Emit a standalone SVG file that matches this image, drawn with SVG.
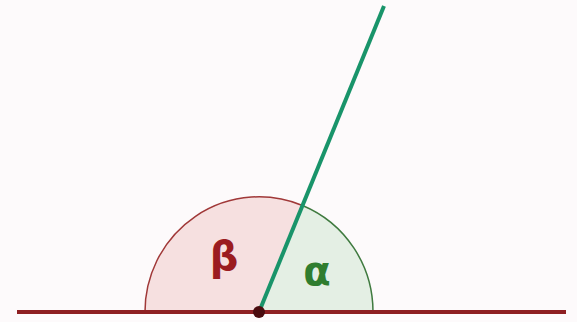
<svg xmlns="http://www.w3.org/2000/svg" width="577" height="322" viewBox="0 0 577 322">
<style>
.lbl{font-family:"DejaVu Sans",sans-serif;font-size:40px;font-weight:bold;text-anchor:middle}
</style>
<rect width="577" height="322" fill="#fdfafb"/>
<g id="sector-beta">
<path d="M145,312 A114,115 0 0 1 302.5,205.5 L259,312 Z" fill="#f6e0e0" stroke="none"/>
<path d="M145,312 A114,115 0 0 1 302.5,205.5" fill="none" stroke="#a03838" stroke-width="1.5"/>
</g>
<g id="sector-alpha">
<path d="M302.5,205.5 A114,115 0 0 1 373,312 L259,312 Z" fill="#e4efe4" stroke="none"/>
<path d="M302.5,205.5 A114,115 0 0 1 373,312" fill="none" stroke="#3f7a3f" stroke-width="1.5"/>
</g>
<g id="connectors">
<line x1="17" y1="312" x2="566" y2="312" stroke="#8e1f22" stroke-width="4"/>
<line x1="259" y1="312" x2="384" y2="6" stroke="#19946a" stroke-width="4"/>
</g>
<g id="vertex"><circle cx="259" cy="312" r="6" fill="#4a0b0e"/></g>
<g id="label-beta"><text class="lbl" x="224" y="270" fill="#9b1c20">β</text></g>
<g id="label-alpha"><text class="lbl" x="317" y="285" fill="#2f7d2f">α</text></g>
</svg>
